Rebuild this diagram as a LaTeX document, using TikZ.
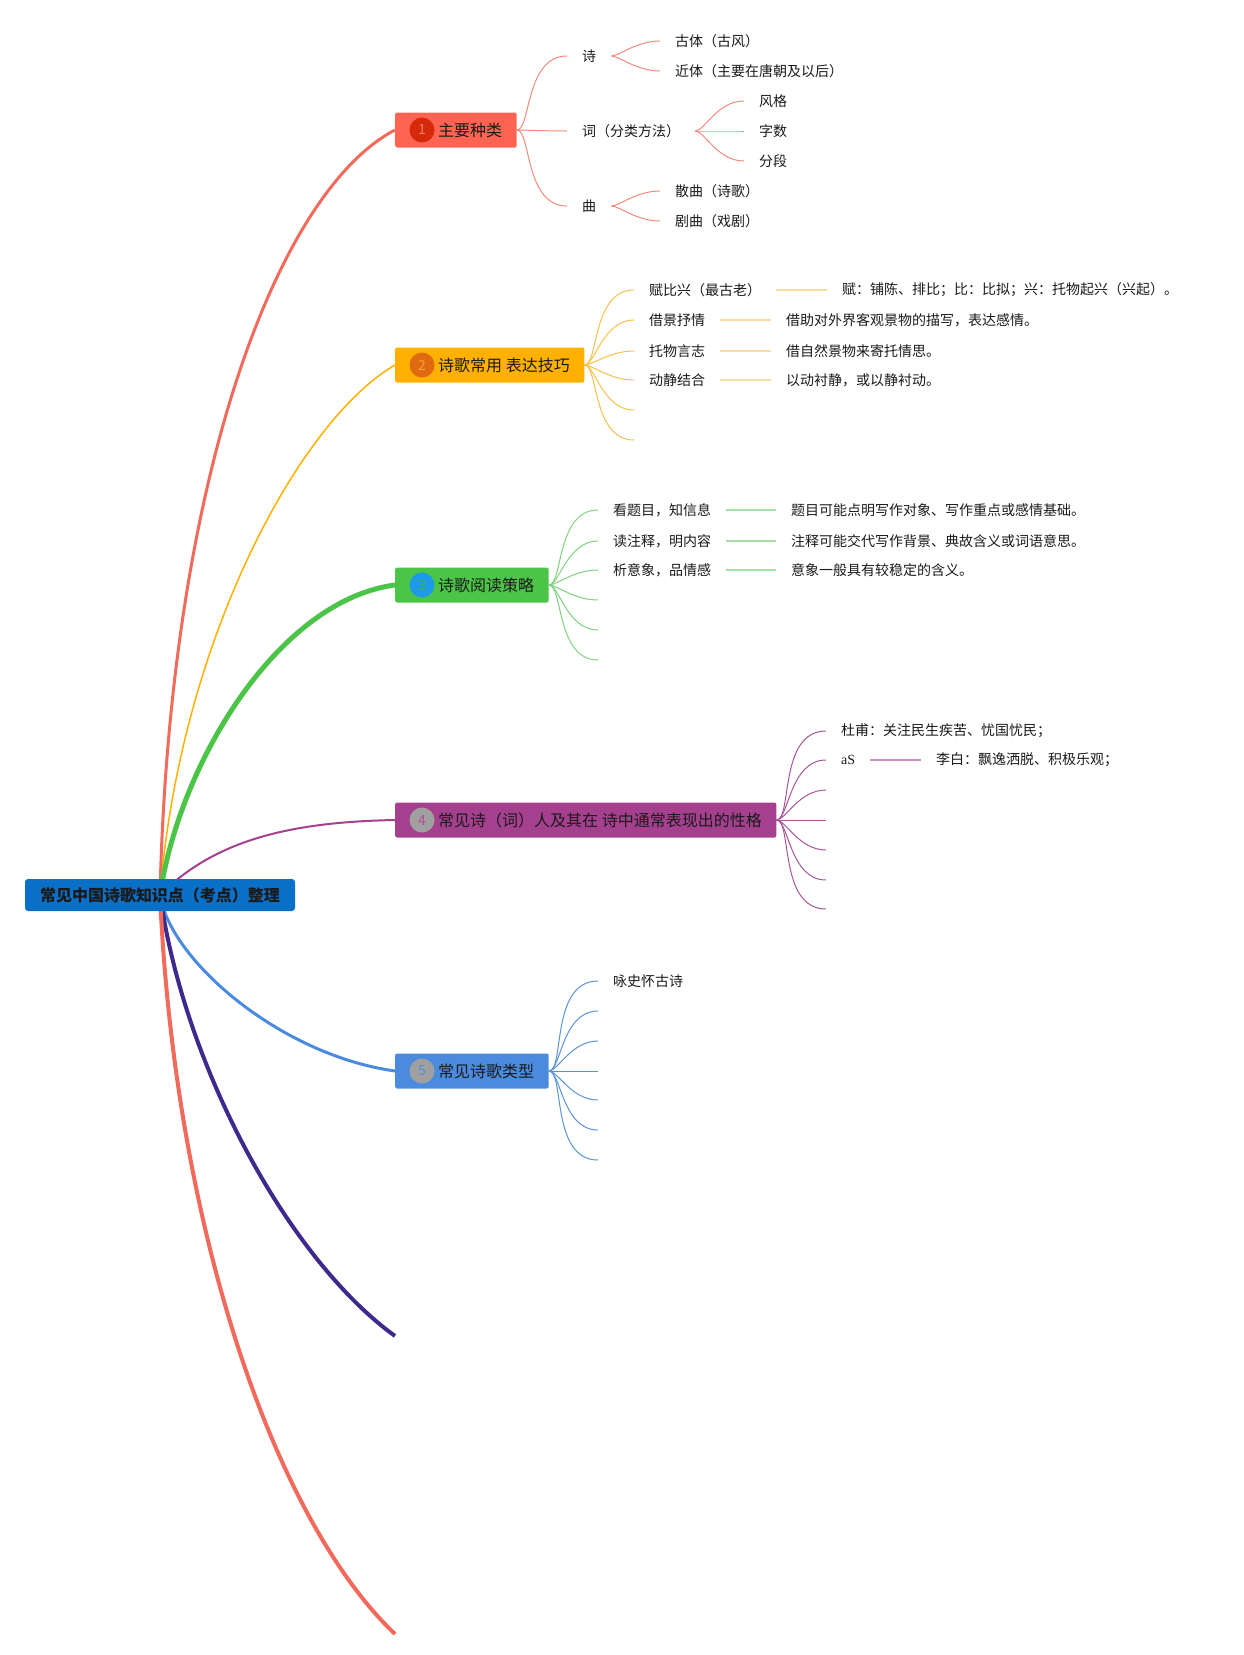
\documentclass[tikz,border=0pt]{standalone}
\usepackage{fontspec}
\setmainfont{Noto Sans CJK SC}
\newfontfamily\latinserif{Liberation Serif}
\usetikzlibrary{positioning}
\usetikzlibrary{backgrounds}

\definecolor{txt}{HTML}{1A1A1A}
\definecolor{rootblue}{HTML}{0A6FC6}
\definecolor{redbox}{HTML}{FF6452}
\definecolor{redline}{HTML}{F26A5C}
\definecolor{reddot}{HTML}{D42A0A}
\definecolor{rednum}{HTML}{FF7B6B}
\definecolor{redtwig}{HTML}{F28A7C}
\definecolor{orgbox}{HTML}{FFB000}
\definecolor{orgdot}{HTML}{E06A10}
\definecolor{orgnum}{HTML}{F0A040}
\definecolor{orgtwig}{HTML}{F7C04A}
\definecolor{orgpale}{HTML}{F9DCA0}
\definecolor{grnbox}{HTML}{4CC448}
\definecolor{grndot}{HTML}{1E9BE6}
\definecolor{grnnum}{HTML}{3CB44A}
\definecolor{grntwig}{HTML}{7DD37D}
\definecolor{grnpale}{HTML}{A6DEA6}
\definecolor{purbox}{HTML}{A5408F}
\definecolor{purnum}{HTML}{B050A0}
\definecolor{purtwig}{HTML}{A8559A}
\definecolor{purpale}{HTML}{CC90C0}
\definecolor{bluebox}{HTML}{4A8BDE}
\definecolor{bluenum}{HTML}{5A8CD8}
\definecolor{bluetwig}{HTML}{5A92DA}
\definecolor{graydot}{HTML}{A0A0A0}
\definecolor{indigo}{HTML}{3D2A8C}

\begin{document}
\begin{tikzpicture}[x=1pt, y=-1pt,
    rootbox/.style={fill=rootblue, rounded corners=3pt, minimum height=32pt, inner xsep=15pt, inner ysep=0pt, text=txt, font=\bfseries\fontsize{16}{18}\selectfont},
    topic/.style={rounded corners=2pt, minimum height=35pt, inner xsep=14.5pt, inner ysep=0pt, anchor=west, text=txt, font=\fontsize{16}{18}\selectfont},
    badge/.style={circle, minimum size=25pt, inner sep=0pt, font=\fontsize{14}{16}\selectfont},
    leaf/.style={inner xsep=15pt, inner ysep=2pt, anchor=west, text=txt, font=\fontsize{14}{16}\selectfont},
    twig/.style={out=0, in=180, out looseness=0.4, in looseness=1.2},
    pale/.style={line width=2pt}]

    \useasboundingbox (0,0) rectangle (1244,1655);

    \node[rootbox] (root) at (160,895) {常见中国诗歌知识点（考点）整理};

    \node[topic, fill=redbox] (kinds) at (395,130) {\hspace*{28.5pt}主要种类};
    \node[badge, fill=reddot, text=rednum] (n1) at ([xshift=27pt]kinds.west) {1};
    \node[topic, fill=orgbox] (skill) at (395,365) {\hspace*{28.5pt}诗歌常用 表达技巧};
    \node[badge, fill=orgdot, text=orgnum] (n2) at ([xshift=27pt]skill.west) {2};
    \node[topic, fill=grnbox] (read) at (395,585) {\hspace*{28.5pt}诗歌阅读策略};
    \node[badge, fill=grndot, text=grnnum] (n3) at ([xshift=27pt]read.west) {3};
    \node[topic, fill=purbox] (poets) at (395,820) {\hspace*{28.5pt}常见诗（词）人及其在 诗中通常表现出的性格};
    \node[badge, fill=graydot, text=purnum] (n4) at ([xshift=27pt]poets.west) {4};
    \node[topic, fill=bluebox] (types) at (395,1071) {\hspace*{28.5pt}常见诗歌类型};
    \node[badge, fill=graydot, text=bluenum] (n5) at ([xshift=27pt]types.west) {5};

    \coordinate (open1) at (395,1336);
    \coordinate (open2) at (395,1634);

    % main branches
    \begin{scope}[on background layer]
    \draw[redline, line width=3pt] (root.center) .. controls (170,470) and (280,190) .. (kinds.west);
    \draw[orgbox, line width=1.5pt] (root.center) .. controls (180,640) and (300,420) .. (skill.west);
    \draw[grnbox, line width=5pt] (root.center) .. controls (180,760) and (280,600) .. (read.west);
    \draw[purbox, line width=2pt] (root.center) .. controls (215,840) and (290,822) .. (poets.west);
    \draw[bluebox, line width=3pt] (root.center) .. controls (170,960) and (280,1055) .. (types.west);
    \draw[indigo, line width=4pt] (root.center) .. controls (185,1070) and (290,1260) .. (open1);
    \draw[redline, line width=4pt] (root.center) .. controls (175,1230) and (275,1520) .. (open2);
    \end{scope}

    % 1
    \node[leaf] (shi) at (567,56) {诗};
    \node[leaf] (ci) at (567,131) {词（分类方法）};
    \node[leaf] (qu) at (567,206) {曲};
    \node[leaf] (guti) at (660,41) {古体（古风）};
    \node[leaf] (jinti) at (660,71) {近体（主要在唐朝及以后）};
    \node[leaf] (fengge) at (744,101) {风格};
    \node[leaf] (zishu) at (744,131) {字数};
    \node[leaf] (fenduan) at (744,161) {分段};
    \node[leaf] (sanqu) at (660,191) {散曲（诗歌）};
    \node[leaf] (juqu) at (660,221) {剧曲（戏剧）};
    \begin{scope}[redtwig, line width=1pt]
    \foreach \a/\b in {kinds/shi, kinds/ci, kinds/qu, shi/guti, shi/jinti, ci/fengge, ci/zishu, ci/fenduan, qu/sanqu, qu/juqu}
        \draw (\a.east) to[twig] (\b.west);
    \end{scope}

    % 2
    \node[leaf] (fbx) at (634,290) {赋比兴（最古老）};
    \node[leaf] (jjsq) at (634,320) {借景抒情};
    \node[leaf] (twyz) at (634,351) {托物言志};
    \node[leaf] (djjh) at (634,380) {动静结合};
    \node[leaf] (fbxd) at (827,290) {赋：铺陈、排比；比：比拟；兴：托物起兴（兴起）。};
    \node[leaf] (jjsqd) at (771,320) {借助对外界客观景物的描写，表达感情。};
    \node[leaf] (twyzd) at (771,351) {借自然景物来寄托情思。};
    \node[leaf] (djjhd) at (771,380) {以动衬静，或以静衬动。};
    \coordinate (e25) at (634,410);
    \coordinate (e26) at (634,440);
    \begin{scope}[orgtwig, line width=1pt]
    \foreach \b in {fbx, jjsq, twyz, djjh}
        \draw (skill.east) to[twig] (\b.west);
    \foreach \b in {e25, e26}
        \draw (skill.east) to[twig] (\b);
    \end{scope}
    \foreach \b in {fbx, jjsq, twyz, djjh}
        \draw[orgpale, pale] (\b.east) -- (\b d.west);

    % 3
    \node[leaf] (kty) at (598,510) {看题目，知信息};
    \node[leaf] (dzs) at (598,541) {读注释，明内容};
    \node[leaf] (xyx) at (598,570) {析意象，品情感};
    \node[leaf] (ktyd) at (776,510) {题目可能点明写作对象、写作重点或感情基础。};
    \node[leaf] (dzsd) at (776,541) {注释可能交代写作背景、典故含义或词语意思。};
    \node[leaf] (xyxd) at (776,570) {意象一般具有较稳定的含义。};
    \foreach \y [count=\i from 4] in {600,630,660}
        \coordinate (e3\i) at (598,\y);
    \begin{scope}[grntwig, line width=1pt]
    \foreach \b in {kty, dzs, xyx}
        \draw (read.east) to[twig] (\b.west);
    \foreach \b in {e34, e35, e36}
        \draw (read.east) to[twig] (\b);
    \end{scope}
    \foreach \b in {kty, dzs, xyx}
        \draw[grnpale, pale] (\b.east) -- (\b d.west);

    % 4
    \node[leaf] (dufu) at (826,731) {杜甫：关注民生疾苦、忧国忧民；};
    \node[leaf] (as) at (826,760) {\latinserif aS};
    \node[leaf] (libai) at (921,760) {李白：飘逸洒脱、积极乐观；};
    \foreach \y [count=\i from 3] in {790,820,850,880,909}
        \coordinate (e4\i) at (826,\y);
    \begin{scope}[purtwig, line width=1pt]
    \foreach \b in {dufu, as}
        \draw (poets.east) to[twig] (\b.west);
    \foreach \b in {e43, e44, e45, e46, e47}
        \draw (poets.east) to[twig] (\b);
    \end{scope}
    \draw[purpale, pale] (as.east) -- (libai.west);

    % 5
    \node[leaf] (yshg) at (598,981) {咏史怀古诗};
    \foreach \y [count=\i from 2] in {1011,1041,1071,1100,1130,1160}
        \coordinate (e5\i) at (598,\y);
    \begin{scope}[bluetwig, line width=1pt]
    \draw (types.east) to[twig] (yshg.west);
    \foreach \b in {e52, e53, e54, e55, e56, e57}
        \draw (types.east) to[twig] (\b);
    \end{scope}

\end{tikzpicture}
\end{document}
